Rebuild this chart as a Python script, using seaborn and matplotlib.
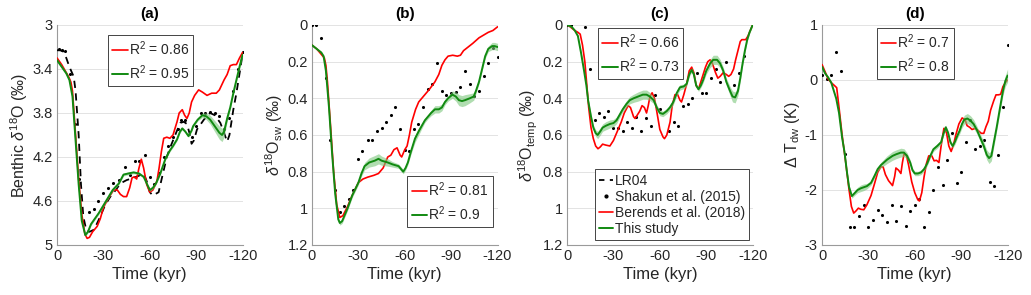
import numpy as np
import seaborn as sns
import matplotlib.pyplot as plt
from matplotlib.lines import Line2D
from matplotlib.ticker import FuncFormatter

# ---------------- data ----------------
# (a) benthic d18O
a_lr04_t = [0, -2, -4, -6, -8, -10.8, -12, -14, -15.5, -17, -19, -21, -24, -26, -28, -31, -34.5, -38, -41, -45,
            -49.5, -53, -56, -58, -60, -62, -65.7, -68, -71, -73, -75, -77, -79.7, -82, -84, -86, -87, -88.5,
            -90.5, -93, -95, -97, -99, -102, -105.6, -108, -110, -111.5, -114, -116, -117, -118.5, -120]
a_lr04 = [3.23, 3.23, 3.24, 3.30, 3.38, 3.47, 3.60, 4.00, 4.45, 4.74, 4.87, 4.88, 4.86, 4.80, 4.74, 4.64, 4.56,
          4.50, 4.44, 4.41, 4.39, 4.37, 4.35, 4.42, 4.52, 4.55, 4.52, 4.38, 4.20, 4.12, 4.05, 3.98, 3.89, 3.88,
          3.90, 4.00, 4.08, 4.05, 3.95, 3.90, 3.86, 3.83, 3.80, 3.82, 3.89, 3.98, 4.06, 4.00, 3.77, 3.62, 3.53,
          3.40, 3.26]
a_shakun_t = [-1, -3.2, -5.4, -8.4, -11.5, -14, -17, -20.5, -23.6, -26.8, -30, -32.9, -36.5, -39.8, -44, -47.4,
              -50.6, -52.8, -56.6, -60, -63, -66, -69, -72, -75, -78, -80.4, -83, -87, -90, -93, -96, -99, -102,
              -105, -108, -111, -114, -117, -120]
a_shakun = [3.22, 3.23, 3.24, 3.45, 3.90, 4.40, 4.79, 4.70, 4.67, 4.60, 4.53, 4.48, 4.44, 4.41, 4.29, 4.36, 4.24,
            4.24, 4.18, 4.38, 4.45, 4.35, 4.20, 4.10, 4.02, 3.95, 3.86, 3.86, 4.02, 3.92, 3.80, 3.80, 3.79, 3.80,
            3.83, 3.95, 3.85, 3.60, 3.40, 3.25]
a_berends_t = [0, -3, -7.5, -9, -10, -12, -14, -16, -18, -19.5, -21, -23, -26, -28, -30, -33, -36.6, -39, -41, -43,
               -45, -47, -48.5, -50, -51.5, -53, -54.5, -56, -58, -60, -62, -64.6, -66, -67.5, -69, -71, -73, -75,
               -77.6, -79, -81, -82.5, -84, -85.5, -87, -89, -91.6, -94, -97, -100, -103, -105, -108, -110, -112,
               -114, -116, -118, -120]
a_berends = [3.30, 3.36, 3.47, 3.52, 3.60, 4.00, 4.40, 4.72, 4.90, 4.94, 4.93, 4.88, 4.83, 4.76, 4.66, 4.58, 4.50,
             4.50, 4.54, 4.56, 4.56, 4.48, 4.39, 4.38, 4.40, 4.30, 4.22, 4.30, 4.45, 4.52, 4.50, 4.42, 4.30, 4.15,
             4.03, 4.02, 4.03, 4.00, 3.88, 3.80, 3.77, 3.82, 3.85, 3.80, 3.70, 3.64, 3.59, 3.61, 3.64, 3.62, 3.62,
             3.59, 3.50, 3.45, 3.37, 3.36, 3.36, 3.30, 3.25]
a_study_t = [0, -3, -6, -8, -10, -12, -14, -16, -18.3, -20, -22, -24, -27, -30, -33, -36, -38, -40, -43, -46,
             -49.5, -53, -56, -58, -60, -62, -64, -66.8, -70, -73, -75, -77.6, -79.5, -81, -83, -85, -87, -88,
             -91, -94, -96.5, -99, -102, -105, -106.7, -108, -110, -112, -114, -116, -118, -120]
a_study = [3.32, 3.38, 3.44, 3.50, 3.65, 4.05, 4.45, 4.78, 4.91, 4.88, 4.81, 4.77, 4.71, 4.64, 4.57, 4.50, 4.47,
           4.44, 4.36, 4.35, 4.34, 4.35, 4.38, 4.44, 4.50, 4.48, 4.44, 4.35, 4.22, 4.14, 4.10, 4.04, 3.97, 3.94,
           3.97, 4.01, 3.96, 3.92, 3.86, 3.82, 3.83, 3.86, 3.92, 3.98, 4.00, 3.97, 3.85, 3.75, 3.62, 3.50, 3.38,
           3.27]
a_study_err = [0.012, 0.012, 0.012, 0.012, 0.012, 0.012, 0.012, 0.012, 0.012, 0.012,
               0.012, 0.012, 0.012, 0.012, 0.012, 0.012, 0.012, 0.012, 0.012, 0.012,
               0.012, 0.012, 0.012, 0.012, 0.012, 0.012, 0.012, 0.012, 0.012, 0.012,
               0.012, 0.012, 0.012, 0.012, 0.012, 0.012, 0.012, 0.012, 0.012, 0.02,
               0.03, 0.04, 0.05, 0.06, 0.06, 0.05, 0.03, 0.02, 0.02, 0.02, 0.02, 0.02]

# (b) seawater d18O
b_shakun_t = [0, -2.8, -6, -8.9, -11.7, -14.7, -18, -20.7, -24, -26.8, -30, -32.6, -36, -39, -42, -45, -47.7,
              -50.8, -54, -56.8, -60, -62.6, -65.7, -68.7, -71.8, -74.8, -77.8, -80.9, -83.9, -86.9, -89.9, -93,
              -96, -99, -102, -105, -108, -111, -114, -117, -120]
b_shakun = [0.0, 0.0, 0.07, 0.29, 0.63, 0.90, 1.02, 0.99, 0.95, 0.90, 0.73, 0.69, 0.63, 0.63, 0.58, 0.56, 0.53,
            0.49, 0.45, 0.565, 0.68, 0.69, 0.57, 0.54, 0.45, 0.35, 0.32, 0.21, 0.36, 0.38, 0.37, 0.365, 0.34, 0.25,
            0.32, 0.385, 0.36, 0.28, 0.21, 0.125, 0.175]
b_berends_t = [0, -3, -6, -8, -9, -10, -12, -14, -16, -18, -20, -23, -26, -30, -33, -36, -40, -43, -46, -49, -51,
               -53, -55, -57, -58, -60, -61.5, -63, -64.5, -67, -69, -71, -73, -76, -79.5, -82, -84, -86, -88, -91,
               -94, -96, -98, -101, -104, -108, -111, -114, -117, -120]
b_berends = [0.11, 0.13, 0.16, 0.18, 0.22, 0.31, 0.55, 0.80, 0.98, 1.05, 1.04, 0.99, 0.93, 0.86, 0.84, 0.83, 0.82,
             0.81, 0.78, 0.72, 0.71, 0.68, 0.67, 0.71, 0.72, 0.68, 0.66, 0.60, 0.53, 0.46, 0.42, 0.40, 0.38, 0.35,
             0.31, 0.27, 0.22, 0.19, 0.17, 0.165, 0.17, 0.165, 0.14, 0.12, 0.10, 0.07, 0.055, 0.04, 0.03, 0.01]
b_study_t = [0, -3, -6, -7.5, -9, -11, -13, -15, -17, -18, -19.5, -21, -23, -26, -30, -32, -34, -37, -40.6, -43,
             -45, -49, -52, -56, -58, -59, -60.5, -62, -64, -66.6, -69, -71, -73, -75, -77, -79.5, -82, -84, -86,
             -88, -90.8, -93, -95, -97, -99, -102, -104.6, -106, -108, -110, -112, -114, -116.5, -118, -120]
b_study = [0.11, 0.13, 0.15, 0.17, 0.25, 0.45, 0.70, 0.92, 1.06, 1.08, 1.07, 1.04, 1.00, 0.93, 0.86, 0.81, 0.77,
           0.75, 0.74, 0.73, 0.74, 0.75, 0.76, 0.77, 0.79, 0.80, 0.78, 0.75, 0.69, 0.62, 0.58, 0.55, 0.52, 0.50,
           0.48, 0.46, 0.46, 0.45, 0.42, 0.40, 0.38, 0.39, 0.41, 0.415, 0.41, 0.40, 0.39, 0.36, 0.31, 0.24, 0.17,
           0.13, 0.115, 0.115, 0.12]
b_study_err = [0.005, 0.005, 0.005, 0.005, 0.005, 0.005, 0.005, 0.008, 0.01, 0.012,
               0.012, 0.012, 0.012, 0.012, 0.012, 0.015, 0.02, 0.025, 0.028, 0.028,
               0.025, 0.02, 0.015, 0.012, 0.012, 0.012, 0.012, 0.012, 0.015, 0.02,
               0.02, 0.015, 0.012, 0.012, 0.015, 0.02, 0.02, 0.018, 0.015, 0.015,
               0.02, 0.025, 0.03, 0.03, 0.03, 0.025, 0.02, 0.015, 0.012, 0.012,
               0.012, 0.015, 0.02, 0.02, 0.02]

# (c) temperature d18O
c_shakun_t = [0, -2.8, -11.9, -14.9, -18, -20.7, -23.8, -26.8, -29.8, -33, -36, -39, -42, -44.9, -48, -51, -54,
              -57, -60, -66, -69, -72, -75, -78, -81, -84, -87, -90, -93, -96, -99, -102.5, -108, -111, -114.5]
c_shakun = [0.0, 0.0, 0.01, 0.24, 0.52, 0.48, 0.50, 0.47, 0.56, 0.56, 0.58, 0.53, 0.56, 0.50, 0.58, 0.51, 0.55,
            0.38, 0.46, 0.58, 0.53, 0.55, 0.44, 0.43, 0.40, 0.26, 0.37, 0.37, 0.29, 0.24, 0.31, 0.20, 0.33, 0.26,
            0.17]
c_berends_t = [0, -2, -5, -7, -8.5, -10, -11.5, -12.5, -14, -15.5, -17, -18.5, -20, -21.5, -23, -25, -27.7, -30,
               -32, -34, -35, -37, -39.5, -41, -43, -44, -45.5, -47, -48.5, -50, -51.4, -52.5, -53.6, -55, -56.5,
               -58, -60, -62, -63, -64.5, -66.6, -68, -69.8, -71.5, -73, -74, -75.5, -77.4, -79, -80.6, -82, -83.5,
               -85, -86.5, -88, -89.5, -91, -92.5, -94, -96, -97.5, -99, -101, -103, -104.5, -106, -107.7, -109,
               -110.5, -112, -113, -115.5, -117, -118.5, -120]
c_berends = [0.0, 0.01, 0.03, 0.04, 0.05, 0.11, 0.20, 0.30, 0.45, 0.56, 0.62, 0.66, 0.675, 0.665, 0.65, 0.655, 0.66,
             0.63, 0.59, 0.55, 0.53, 0.48, 0.44, 0.45, 0.50, 0.51, 0.49, 0.47, 0.44, 0.45, 0.48, 0.44, 0.39, 0.37,
             0.40, 0.47, 0.57, 0.61, 0.62, 0.60, 0.53, 0.44, 0.38, 0.38, 0.41, 0.42, 0.38, 0.32, 0.25, 0.23, 0.26,
             0.33, 0.35, 0.31, 0.27, 0.23, 0.20, 0.19, 0.21, 0.26, 0.29, 0.28, 0.26, 0.27, 0.28, 0.27, 0.24, 0.19,
             0.14, 0.09, 0.08, 0.08, 0.06, 0.03, 0.0]
c_study_t = [0, -3, -5, -7, -9, -11, -12.5, -13.6, -15.5, -17, -18.5, -19.8, -21.5, -23, -25, -27.7, -30, -32, -34,
             -36, -38.5, -40.6, -43, -46, -49, -51.4, -53.5, -56, -58, -60, -62, -64.4, -66.5, -68.7, -71, -73,
             -75.5, -77.4, -79, -80.6, -82, -83.5, -85, -86.5, -88, -90, -92.5, -94.5, -97, -99, -101, -103,
             -105.4, -107, -108.7, -110.5, -112, -113.5, -115, -116.5, -118, -120]
c_study = [0.0, 0.01, 0.03, 0.06, 0.15, 0.25, 0.33, 0.41, 0.50, 0.56, 0.59, 0.60, 0.58, 0.56, 0.55, 0.54, 0.535,
           0.52, 0.49, 0.46, 0.43, 0.41, 0.40, 0.39, 0.38, 0.38, 0.39, 0.41, 0.45, 0.48, 0.485, 0.47, 0.45, 0.42,
           0.37, 0.34, 0.335, 0.32, 0.27, 0.245, 0.27, 0.33, 0.35, 0.33, 0.30, 0.25, 0.21, 0.19, 0.19, 0.21, 0.25,
           0.31, 0.36, 0.39, 0.395, 0.36, 0.29, 0.21, 0.14, 0.08, 0.04, 0.0]
c_study_err = [0.005, 0.005, 0.005, 0.008, 0.01, 0.01, 0.01, 0.01, 0.012, 0.015,
               0.018, 0.02, 0.02, 0.02, 0.022, 0.022, 0.02, 0.018, 0.015, 0.015,
               0.018, 0.02, 0.022, 0.025, 0.025, 0.025, 0.022, 0.018, 0.015, 0.015,
               0.015, 0.015, 0.015, 0.015, 0.015, 0.015, 0.012, 0.012, 0.012, 0.012,
               0.012, 0.012, 0.012, 0.012, 0.015, 0.018, 0.022, 0.025, 0.025, 0.022,
               0.02, 0.02, 0.025, 0.03, 0.03, 0.025, 0.02, 0.015, 0.012, 0.01,
               0.008, 0.006]

# (d) deep-water temperature anomaly
d_shakun_t = [0, -3, -6, -9, -12, -15, -18, -21, -24, -27, -30, -33, -36, -39, -42, -45, -48, -51, -54, -57, -60,
              -63, -66, -69, -72, -75, -78, -81, -84, -87, -90, -93, -96, -98.8, -102, -104.6, -108.5, -111, -114,
              -117, -120]
d_shakun = [0.09, 0.02, 0.09, 0.50, 0.16, -1.35, -2.68, -2.68, -2.48, -2.27, -2.67, -2.54, -2.37, -2.45, -2.59,
            -2.27, -2.57, -2.30, -2.65, -2.39, -2.28, -2.16, -2.67, -2.40, -2.00, -1.59, -1.91, -1.46, -0.97, -1.88,
            -1.67, -1.12, -0.72, -1.26, -1.20, -1.10, -1.86, -1.92, -1.36, -0.49, 0.64]
d_berends_t = [0, -2, -3.9, -6, -8, -9.5, -11, -13, -15.6, -17.5, -19, -20.5, -22, -23.5, -25, -27, -29, -31.7, -34,
               -36, -38, -39.5, -41, -43, -45.6, -47, -47.8, -49.5, -51, -52, -53, -54.5, -56, -58, -60, -62, -63,
               -64.5, -66, -67.5, -69, -71, -72.5, -74, -75.6, -77, -78.8, -80.5, -82, -83.5, -85, -86.5, -88.5,
               -90.6, -92.5, -93.8, -95.5, -97, -99, -101, -103, -104.6, -106, -107.5, -109, -111, -112.5, -114,
               -115.5, -117, -118.5, -120]
d_berends = [0.28, 0.15, 0.02, -0.05, -0.10, -0.14, -0.50, -1.00, -1.56, -2.00, -2.30, -2.42, -2.38, -2.33, -2.35,
             -2.36, -2.27, -2.10, -1.88, -1.68, -1.58, -1.58, -1.72, -1.83, -1.92, -1.75, -1.60, -1.64, -1.70,
             -1.50, -1.35, -1.36, -1.55, -1.85, -2.05, -2.18, -2.20, -2.05, -1.76, -1.52, -1.38, -1.38, -1.47,
             -1.46, -1.50, -1.20, -0.88, -0.96, -1.20, -1.30, -1.18, -1.00, -0.80, -0.69, -0.72, -0.83, -0.86,
             -0.90, -0.88, -0.92, -0.97, -0.97, -0.85, -0.75, -0.55, -0.38, -0.27, -0.27, -0.26, -0.12, -0.05, 0.0]
d_study_t = [0, -2, -3.9, -6, -9.2, -11, -13, -14.6, -16, -17.5, -19.3, -21, -23, -25, -27, -29, -31.7, -34, -36,
             -38, -40, -42, -45.6, -48, -51, -53, -55, -57, -58.5, -60, -62, -64, -66, -68, -70, -72, -74.5, -77,
             -78.5, -80, -81.5, -83, -84.5, -86, -87.4, -89, -90.5, -92, -94, -96, -98, -100, -102, -104.6, -106.5,
             -108, -109.5, -111, -113, -115, -117, -118.5, -120]
d_study = [0.24, 0.12, 0.05, -0.05, -0.34, -0.60, -1.05, -1.32, -1.65, -1.95, -2.11, -2.06, -2.00, -1.97, -1.95,
           -1.93, -1.87, -1.74, -1.62, -1.55, -1.50, -1.45, -1.38, -1.35, -1.32, -1.32, -1.38, -1.50, -1.64, -1.70,
           -1.70, -1.68, -1.62, -1.52, -1.38, -1.26, -1.20, -1.13, -0.98, -0.86, -0.96, -1.13, -1.20, -1.12, -1.02,
           -0.92, -0.80, -0.72, -0.70, -0.74, -0.80, -0.90, -1.03, -1.20, -1.36, -1.42, -1.38, -1.15, -0.85, -0.52,
           -0.20, -0.02, 0.08]
d_study_err = [0.02, 0.02, 0.02, 0.02, 0.03, 0.03, 0.03, 0.03, 0.04, 0.04,
               0.04, 0.04, 0.05, 0.06, 0.06, 0.05, 0.04, 0.04, 0.04, 0.05,
               0.06, 0.07, 0.08, 0.08, 0.08, 0.07, 0.06, 0.05, 0.04, 0.04,
               0.04, 0.04, 0.04, 0.04, 0.04, 0.04, 0.04, 0.04, 0.04, 0.04,
               0.04, 0.04, 0.04, 0.05, 0.05, 0.06, 0.07, 0.08, 0.09, 0.09,
               0.08, 0.07, 0.07, 0.08, 0.09, 0.10, 0.09, 0.08, 0.07, 0.07,
               0.08, 0.10, 0.12]

r2_berends = ["0.86", "0.81", "0.66", "0.7"]
r2_study = ["0.95", "0.9", "0.73", "0.8"]
titles = ["(a)", "(b)", "(c)", "(d)"]
ylabels = ["Benthic $\\delta^{18}$O (\u2030)", "$\\delta^{18}$O$_{\\rm sw}$ (\u2030)",
           "$\\delta^{18}$O$_{\\rm temp}$ (\u2030)", "$\\Delta$ T$_{\\rm dw}$ (K)"]
xticks = [0, -30, -60, -90, -120]

# ---------------- style ----------------
sns.set_style("white")
plt.rcParams['font.family'] = ['Liberation Sans', 'DejaVu Sans']
plt.rcParams['mathtext.fontset'] = 'custom'
plt.rcParams['mathtext.rm'] = 'Liberation Sans'
plt.rcParams['mathtext.it'] = 'Liberation Sans:italic'
plt.rcParams['mathtext.bf'] = 'Liberation Sans:bold'

TXT = '#262626'
RED = '#ff0000'
GREEN = '#118a11'
BAND = '#7cc77c'

fig = plt.figure(figsize=(10.31, 2.95), dpi=100)
lefts = [0.0553, 0.3026, 0.55, 0.7973]
axes = [fig.add_axes([l, 0.1695, 0.18, 0.7458]) for l in lefts]

panels = [
    (a_shakun_t, a_shakun, a_berends_t, a_berends, a_study_t, a_study, a_study_err),
    (b_shakun_t, b_shakun, b_berends_t, b_berends, b_study_t, b_study, b_study_err),
    (c_shakun_t, c_shakun, c_berends_t, c_berends, c_study_t, c_study, c_study_err),
    (d_shakun_t, d_shakun, d_berends_t, d_berends, d_study_t, d_study, d_study_err),
]

for i, (ax, p) in enumerate(zip(axes, panels)):
    st, sv, bt, bv, gt, gv, ge = p
    gt = np.array(gt)
    gv = np.array(gv)
    ge = np.array(ge)
    if i == 0:
        sns.lineplot(x=a_lr04_t, y=a_lr04, ax=ax, sort=False, estimator=None, color='k', lw=1.3,
                     zorder=3).lines[-1].set_dashes([4, 3])
    sns.scatterplot(x=st, y=sv, ax=ax, color='k', s=5, linewidth=0, zorder=4)
    sns.lineplot(x=bt, y=bv, ax=ax, sort=False, estimator=None, color=RED, lw=1.2, zorder=5)
    ax.fill_between(gt, gv - ge, gv + ge, color=BAND, alpha=0.6, lw=0, zorder=5)
    sns.lineplot(x=gt, y=gv, ax=ax, sort=False, estimator=None, color=GREEN, lw=1.4, zorder=6)

    ax.set_xlim(0, -120)
    ax.set_xticks(xticks)
    if i == 0:
        ax.set_ylim(5, 3)
        ax.set_yticks([3, 3.4, 3.8, 4.2, 4.6, 5])
    elif i < 3:
        ax.set_ylim(1.2, 0)
        ax.set_yticks([0, 0.2, 0.4, 0.6, 0.8, 1, 1.2])
    else:
        ax.set_ylim(-3, 1)
        ax.set_yticks([-3, -2, -1, 0, 1])
    ax.yaxis.set_major_formatter(FuncFormatter(lambda v, pos: '%g' % v))
    ax.xaxis.set_major_formatter(FuncFormatter(lambda v, pos: '%g' % v))
    ax.grid(axis='y', color='#e3e3e3', lw=0.7, zorder=0)
    ax.set_axisbelow(True)
    sns.despine(ax=ax)
    for s in ['left', 'bottom']:
        ax.spines[s].set_color('#9a9a9a')
        ax.spines[s].set_linewidth(0.8)
    ax.tick_params(direction='in', length=2.5, width=0.6, colors='#9a9a9a', labelcolor=TXT,
                   labelsize=10.5, pad=3)
    ax.set_xlabel('Time (kyr)', fontsize=12, color=TXT, labelpad=3)
    ax.set_ylabel(ylabels[i], fontsize=11.5, color=TXT, labelpad=2)
    ax.set_title(titles[i], fontsize=11, fontweight='bold', color='k', pad=5)

    handles = [Line2D([], [], color=RED, lw=1.2), Line2D([], [], color=GREEN, lw=1.4)]
    labels = ['R$^2$ = ' + r2_berends[i], 'R$^2$ = ' + r2_study[i]]
    kw = dict(frameon=True, fancybox=False, framealpha=1, edgecolor=TXT, fontsize=10,
              handlelength=1.1, handletextpad=0.1, borderpad=0.3, labelspacing=0.4,
              borderaxespad=0)
    if i == 0:
        leg = ax.legend(handles, labels, loc='upper left', bbox_to_anchor=(0.276, 0.955), **kw)
    elif i == 1:
        leg = ax.legend(handles, labels, loc='lower right', bbox_to_anchor=(0.973, 0.082), **kw)
    elif i == 2:
        leg = ax.legend(handles, labels, loc='upper left', bbox_to_anchor=(0.168, 0.986), **kw)
    else:
        leg = ax.legend(handles, labels, loc='upper left', bbox_to_anchor=(0.294, 0.986), **kw)
    leg.get_frame().set_linewidth(0.6)
    for t in leg.get_texts():
        t.set_color(TXT)

    if i == 2:
        ax.add_artist(leg)
        h2 = [Line2D([], [], color='k', lw=1.3, dashes=[3, 3]),
              Line2D([], [], color='k', marker='.', ms=4, lw=0),
              Line2D([], [], color=RED, lw=1.2),
              Line2D([], [], color=GREEN, lw=1.4)]
        l2 = ['LR04', 'Shakun et al. (2015)', 'Berends et al. (2018)', 'This study']
        kw2 = dict(kw)
        kw2.update(labelspacing=0.15, handlelength=1.0, handletextpad=0.1)
        leg2 = ax.legend(h2, l2, loc='lower left', bbox_to_anchor=(0.151, 0.023), **kw2)
        leg2.get_frame().set_linewidth(0.6)
        for t in leg2.get_texts():
            t.set_color(TXT)

fig.savefig('out.png', dpi=100)
